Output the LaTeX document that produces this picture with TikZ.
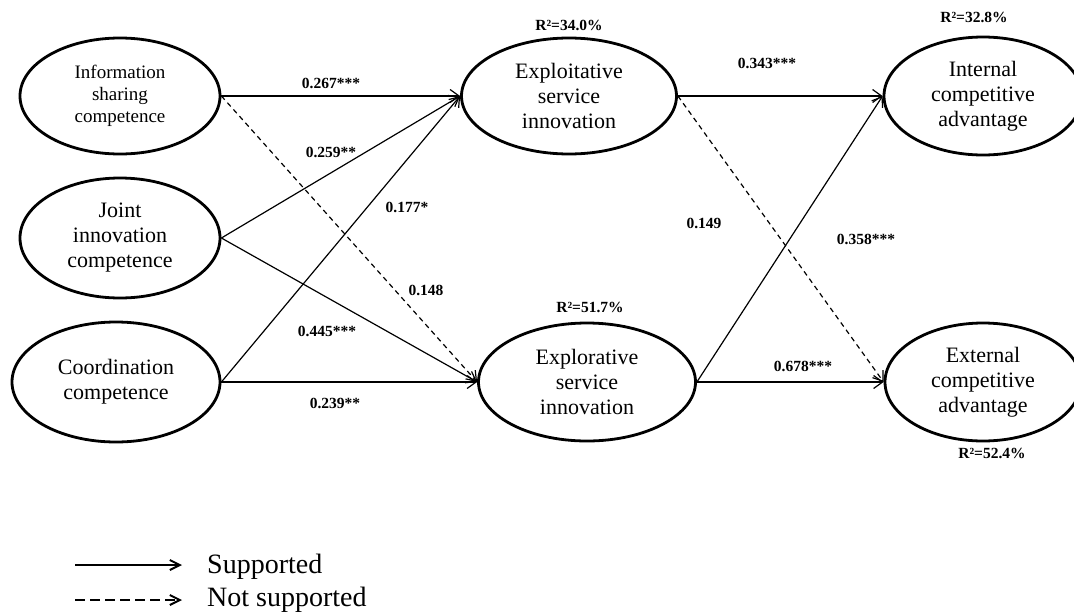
\documentclass[tikz,border=0pt]{standalone}
\usepackage{fontspec}
\setmainfont{Liberation Serif}
\usetikzlibrary{shapes.geometric,arrows.meta}
\begin{document}
\begin{tikzpicture}[x=1pt,y=-1pt,
  lat/.style={ellipse,draw,line width=2.8pt,inner sep=0pt,align=center,font=\fontsize{22}{25}\selectfont},
  small/.style={font=\fontsize{19}{22}\selectfont},
  sup/.style={line width=1.2pt,-{Straight Barb[length=9pt,width=13pt,line width=1.2pt]}},
  nsup/.style={sup,dash pattern=on 5pt off 4pt},
  coef/.style={font=\fontsize{15.5}{18}\selectfont\bfseries,inner sep=0pt},
  legtext/.style={font=\fontsize{28}{30}\selectfont,inner sep=0pt,anchor=base west},
  legline/.style={line width=2pt,-{Straight Barb[length=10pt,width=10pt,line width=2pt]}},
  ]
\useasboundingbox (0,0) rectangle (1074,611);

% latent constructs
\node[lat,small,minimum width=200pt,minimum height=116pt] (info) at (120,96) {Information\\sharing\\competence};
\node[lat,minimum width=200pt,minimum height=120pt] (joint) at (120,238) {Joint\\innovation\\competence};
\node[lat,minimum width=208pt,minimum height=120pt] (coord) at (116,382) {Coordination\\competence};
\node[lat,minimum width=215pt,minimum height=116pt] (exploit) at (569,96) {Exploitative\\service\\innovation};
\node[lat,minimum width=217pt,minimum height=118pt] (explor) at (587,382) {Explorative\\service\\innovation};
\node[lat,minimum width=198pt,minimum height=118pt] (internal) at (983,96) {Internal\\competitive\\advantage};
\node[lat,minimum width=196pt,minimum height=118pt] (external) at (983,382) {External\\competitive\\advantage};

% R squared
\node[coef] (r1) at (569,25) {R²=34.0\%};
\node[coef] (r2) at (590,307) {R²=51.7\%};
\node[coef] (r3) at (974,17) {R²=32.8\%};
\node[coef] (r4) at (992,453) {R²=52.4\%};

% paths
\draw[sup] (info.east) -- (exploit.west);
\draw[nsup] (info.east) -- (explor.west);
\draw[sup] (joint.east) -- (exploit.west);
\draw[sup] (joint.east) -- (explor.west);
\draw[sup] (coord.east) -- (exploit.west);
\draw[sup] (coord.east) -- (explor.west);
\draw[sup] (exploit.east) -- (internal.west);
\draw[nsup] (exploit.east) -- (external.west);
\draw[sup] (explor.east) -- (internal.west);
\draw[sup] (explor.east) -- (external.west);

% coefficients
\node[coef] (c1) at (331,83) {0.267***};
\node[coef] (c2) at (331,152) {0.259**};
\node[coef] (c3) at (407,207) {0.177*};
\node[coef] (c4) at (426,290) {0.148};
\node[coef] (c5) at (327,331) {0.445***};
\node[coef] (c6) at (335,403) {0.239**};
\node[coef] (c7) at (767,63) {0.343***};
\node[coef] (c8) at (704,223) {0.149};
\node[coef] (c9) at (866,239) {0.358***};
\node[coef] (c10) at (803,366) {0.678***};

% legend
\coordinate (l1a) at (75,565);
\coordinate (l1b) at (182,565);
\coordinate (l2a) at (75,600);
\coordinate (l2b) at (182,600);
\draw[legline] (l1a) -- (l1b);
\draw[legline,dash pattern=on 10pt off 5pt] (l2a) -- (l2b);
\node[legtext] (t1) at (207,573) {Supported};
\node[legtext] (t2) at (207,606) {Not supported};
\end{tikzpicture}
\end{document}
